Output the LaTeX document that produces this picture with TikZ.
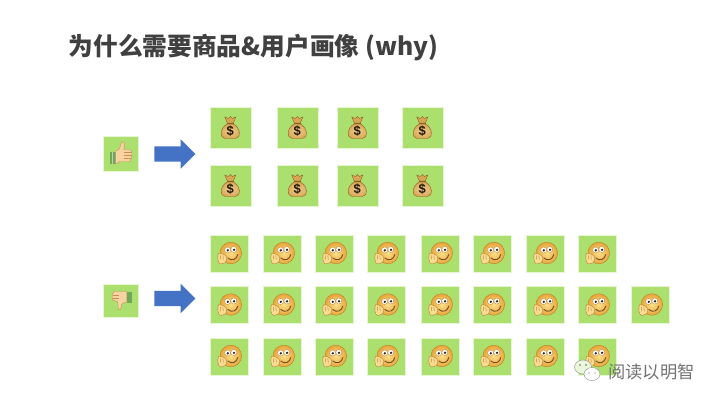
\documentclass[tikz,border=0pt]{standalone}
\usepackage{fontspec}
\setmainfont{Liberation Sans}
\newfontfamily\cjk{Noto Sans CJK SC}
\usetikzlibrary{shapes.arrows}
\definecolor{tilegreen}{HTML}{ABE06E}
\definecolor{arrowblue}{HTML}{4472C4}
\definecolor{titlegray}{HTML}{404040}
\definecolor{bagtan}{HTML}{D9A654}
\definecolor{baglight}{HTML}{F0D08C}
\definecolor{bagdark}{HTML}{8A5E28}
\definecolor{facey}{HTML}{E8A63A}
\definecolor{facel}{HTML}{FBE08A}
\definecolor{faceo}{HTML}{B9802A}
\definecolor{skin}{HTML}{F7D3A2}
\definecolor{skind}{HTML}{C98F55}
\definecolor{cuff}{HTML}{6FA85A}
\tikzset{
 x=1pt,y=-1pt,
 tile/.style={fill=tilegreen,draw=white!70!tilegreen,line width=.5pt,inner sep=0pt,outer sep=0pt},
 bigarrow/.style={single arrow,fill=arrowblue,draw=none,inner xsep=0pt,inner ysep=7.5pt,outer sep=0pt,
   minimum height=41pt,single arrow head extend=7pt,single arrow tip angle=90},
 bag/.pic={
  \shade[inner color=baglight,outer color=bagtan,draw=bagdark,line width=.4pt] (-3,-4) .. controls (-11,0) and (-10.5,10.5) .. (-5,10.5) -- (5,10.5) .. controls (10.5,10.5) and (11,0) .. (3,-4) -- cycle;
  \fill[bagtan,draw=bagdark,line width=.4pt] (-3,-5) -- (-5.5,-11) -- (-2,-9.5) -- (0,-11.5) -- (2,-9.5) -- (5.5,-11) -- (3,-5) -- cycle;
  \fill[bagdark] (-3.5,-5.5) rectangle (3.5,-4);
  \node[font=\bfseries\fontsize{13}{13}\selectfont,text=black!75!bagdark,inner sep=0pt] at (0,3) {\$};
 },
 smile/.pic={
  \shade[inner color=facel,outer color=facey,draw=faceo,line width=.4pt] (2,-.5) circle[radius=10.8];
  \fill[white,draw=faceo,line width=.3pt] (-1.2,-3.5) circle[radius=3];
  \fill[white,draw=faceo,line width=.3pt] (5,-4) circle[radius=3];
  \fill[black!70!brown] (-1,-3.2) circle[radius=1.3];
  \fill[black!70!brown] (5.2,-3.7) circle[radius=1.3];
  \draw[black!40!brown,line width=.9pt,line cap=round] (-1,4.5) .. controls (3,8) and (8,6) .. (9,1);
  \fill[facel!60!skin,draw=faceo,line width=.4pt] (-11,3) .. controls (-11,0) and (-9,-2) .. (-8,0) .. controls (-6,0) and (-2,2) .. (-2,5) .. controls (-2,9) and (-5,10.5) .. (-8,10.5) .. controls (-10,10.5) and (-11,7) .. (-11,3) -- cycle;
  \draw[faceo,line width=.4pt] (-8.5,2) -- (-8,6) (-6,2) -- (-5.5,6);
 },
 thumbup/.pic={
  \fill[cuff] (-11,-2) rectangle (-5,10);
  \fill[white,opacity=.5] (-8.5,-2) rectangle (-7.5,10);
  \fill[skin,draw=skind,line width=.4pt] (-5,-3) -- (-3,-3) .. controls (0,-5) and (0,-9) .. (1,-11) .. controls (3,-13) and (5,-10) .. (4,-6) -- (3,-4) -- (10,-4) .. controls (12,-3) and (12,6) .. (9,8) -- (-1,8) .. controls (-3,10) and (-4,10) .. (-5,10) -- cycle;
  \draw[skind,line width=.4pt] (3,-1) -- (11,-1) (3,2) -- (11,2) (3,5) -- (10,5);
 },
 thumbdown/.pic={
  \fill[cuff] (6,-9) rectangle (11,2);
  \fill[skin,draw=skind,line width=.4pt] (6,-9) -- (-6,-9) .. controls (-9,-8) and (-9,-1) .. (-7,0) -- (-3,1) .. controls (-2,4) and (-3,7) .. (-2,9) .. controls (0,10) and (1,7) .. (1,4) .. controls (2,2) and (4,2) .. (6,2) -- cycle;
  \draw[skind,line width=.4pt] (-8,-5) -- (-2,-5) (-8,-2) -- (-2,-2);
 },
}
\begin{document}
\begin{tikzpicture}
\useasboundingbox (0,0) rectangle (720,404);
\fill[white] (0,0) rectangle (720,404);
\node[anchor=west,inner sep=0pt,text=titlegray,font=\cjk\bfseries\fontsize{24.7}{24.7}\selectfont] (title) at (68.5,48) {为什么需要商品\&用户画像 (why)};
% thumbs
\node[tile,minimum width=35pt,minimum height=35pt] (up) at (120.5,153.5) {};
\pic at (up.center) {thumbup};
\node[tile,minimum width=35pt,minimum height=33pt] (down) at (120.5,300.5) {};
\pic at (down.center) {thumbdown};
\node[bigarrow] (arrowup) at (171,154) {};
\node[bigarrow] (arrowdown) at (171,298.5) {};
% money
\foreach \yy/\r in {128/a,186/b}
 \foreach \xx/\c in {230.3/1,297.3/2,357.3/3,422.3/4}{
  \node[tile,minimum width=41pt,minimum height=41pt] (m\r\c) at (\xx,\yy) {};
  \pic at (m\r\c.center) {bag};
 }
% smiles
\foreach \yy/\r in {253.5/a,305/b,356.5/c}
 \foreach \xx/\c in {228.8/1,281.8/2,333.8/3,385.8/4,439.8/5,491.8/6,544.8/7,596.8/8}{
  \node[tile,minimum width=38pt,minimum height=37pt] (s\r\c) at (\xx,\yy) {};
  \pic at (s\r\c.center) {smile};
 }
\node[tile,minimum width=38pt,minimum height=37pt] (sb9) at (649.8,305) {};
\pic at (sb9.center) {smile};
% watermark
\fill[white!75!tilegreen,draw=black!45,line width=.4pt] (583,367) ellipse[x radius=8.5,y radius=7];
\fill[white,draw=black!45,line width=.4pt] (592,374) ellipse[x radius=8,y radius=6.5];
\fill[black!60] (580,365) circle[radius=.8] (586,365) circle[radius=.8] (589,373) circle[radius=.7] (595,373) circle[radius=.7];
\node[anchor=west,inner sep=0pt,text=black!55,font=\cjk\fontsize{17.3}{17.3}\selectfont] (mark) at (608,372) {阅读以明智};
\end{tikzpicture}
\end{document}
